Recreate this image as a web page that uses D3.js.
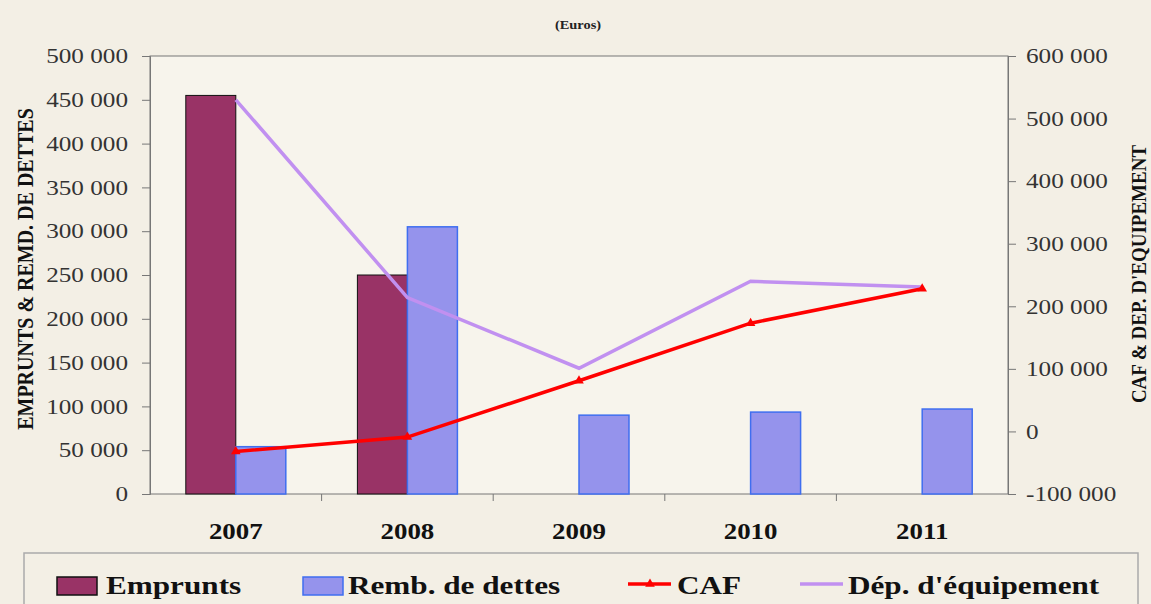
<!DOCTYPE html>
<head>
  <meta charset="utf-8">
  <script src="https://d3js.org/d3.v7.min.js"></script>
  <style>
    body { margin:0; background:#f3efe5; }
    text { font-family: "Liberation Serif", "DejaVu Serif", serif; }
    .axis text { font-size: 21px; fill: #333; font-family: "Liberation Serif", serif; }
    .axis path, .axis line { stroke: #777; }
  </style>
</head>
<body>
  <script>
    var years = ["2007", "2008", "2009", "2010", "2011"];
    var emprunts = [455000, 250000, null, null, null];
    var remb = [54000, 305000, 90000, 93500, 97000];
    var caf = [-32000, -9000, 81000, 173000, 228000];
    var depEquip = [530000, 214000, 101000, 240000, 231000];
    var leftTicks = [0, 50000, 100000, 150000, 200000, 250000, 300000, 350000, 400000, 450000, 500000];
    var rightTicks = [-100000, 0, 100000, 200000, 300000, 400000, 500000, 600000];

    var W = 1151, H = 604;
    var margin = {top: 56, right: 143, bottom: 110, left: 150};
    var width = W - margin.left - margin.right,
        height = H - margin.top - margin.bottom;
    var sx = 1.2; // the picture's lettering is a bit wider than the font

    var root = d3.select("body").append("svg")
      .attr("width", W).attr("height", H);
    var svg = root.append("g")
      .attr("transform", "translate(" + margin.left + "," + margin.top + ")");

    var fmt = function(d) { return d3.format(",")(d).replace(/,/g, " ").replace("\u2212", "-"); };

    var x = d3.scaleBand().domain(years).range([0, width]);
    var y = d3.scaleLinear().domain([0, 500000]).range([height, 0]);
    var y2 = d3.scaleLinear().domain([-100000, 600000]).range([height, 0]);
    var barW = 50;

    svg.append("rect")
      .attr("width", width).attr("height", height)
      .attr("fill", "#f7f4ec").attr("stroke", "#777");

    // bars
    svg.selectAll(".emp").data(years.filter(function(d, i) { return emprunts[i] != null; }))
      .enter().append("rect")
      .attr("x", function(d) { return x(d) + x.bandwidth() / 2 - barW; })
      .attr("y", function(d) { return y(emprunts[years.indexOf(d)]); })
      .attr("width", barW)
      .attr("height", function(d) { return height - y(emprunts[years.indexOf(d)]); })
      .attr("fill", "#993366").attr("stroke", "#111").attr("stroke-width", 1);

    svg.selectAll(".remb").data(years)
      .enter().append("rect")
      .attr("x", function(d) { return x(d) + x.bandwidth() / 2; })
      .attr("y", function(d, i) { return y(remb[i]); })
      .attr("width", barW)
      .attr("height", function(d, i) { return height - y(remb[i]); })
      .attr("fill", "#9593ec").attr("stroke", "#3f6ef0").attr("stroke-width", 1.5);

    // axes
    var gl = svg.append("g").attr("class", "axis")
      .call(d3.axisLeft(y).tickValues(leftTicks).tickFormat(fmt).tickSizeOuter(0).tickSize(8));
    gl.attr("font-family", null).attr("font-size", null);
    gl.selectAll("text").attr("x", -22 / sx).attr("transform", "scale(" + sx + ",1)");

    var gr = svg.append("g").attr("class", "axis")
      .attr("transform", "translate(" + width + ",0)")
      .call(d3.axisRight(y2).tickValues(rightTicks).tickFormat(fmt).tickSizeOuter(0).tickSize(8));
    gr.attr("font-family", null).attr("font-size", null);
    gr.selectAll("text").attr("x", 18 / sx).attr("transform", "scale(" + sx + ",1)");

    var xAxis = svg.append("g")
      .attr("transform", "translate(0," + height + ")");
    xAxis.selectAll(".sep").data(years.slice(1)).enter().append("line")
      .attr("x1", function(d) { return x(d); }).attr("x2", function(d) { return x(d); })
      .attr("y1", 0).attr("y2", 7).attr("stroke", "#777");
    xAxis.selectAll(".lbl").data(years).enter().append("text")
      .attr("transform", function(d) {
        return "translate(" + (x(d) + x.bandwidth() / 2) + ",45) scale(1.17,1)";
      })
      .attr("text-anchor", "middle")
      .attr("font-size", "23px").attr("font-weight", "bold").attr("fill", "#111")
      .text(function(d) { return d; });

    // lines
    var lineFn = d3.line()
      .x(function(d, i) { return x(years[i]) + x.bandwidth() / 2; })
      .y(function(d) { return y2(d); });

    svg.append("path").datum(depEquip)
      .attr("d", lineFn).attr("fill", "none")
      .attr("stroke", "#c190f0").attr("stroke-width", 3.5);

    svg.append("path").datum(caf)
      .attr("d", lineFn).attr("fill", "none")
      .attr("stroke", "#ff0000").attr("stroke-width", 3.5);

    svg.selectAll(".cafpt").data(caf).enter().append("path")
      .attr("d", d3.symbol().type(d3.symbolTriangle).size(40))
      .attr("transform", function(d, i) {
        return "translate(" + (x(years[i]) + x.bandwidth() / 2) + "," + y2(d) + ")";
      })
      .attr("fill", "#ff0000");

    // titles
    root.append("text")
      .attr("transform", "translate(578,29) scale(" + sx + ",1)")
      .attr("text-anchor", "middle")
      .attr("font-size", "12px").attr("font-weight", "bold").attr("fill", "#222")
      .text("(Euros)");

    root.append("text")
      .attr("transform", "translate(33,269) rotate(-90) scale(1,1.15)")
      .attr("text-anchor", "middle")
      .attr("font-size", "20px").attr("font-weight", "bold").attr("fill", "#111")
      .text("EMPRUNTS & REMD. DE DETTES");

    root.append("text")
      .attr("transform", "translate(1146,274) rotate(-90) scale(1,1.15)")
      .attr("text-anchor", "middle")
      .attr("font-size", "19px").attr("font-weight", "bold").attr("fill", "#111")
      .text("CAF & DEP. D'EQUIPEMENT");

    // legend
    var legend = root.append("g");
    legend.append("rect")
      .attr("x", 24).attr("y", 553).attr("width", 1114).attr("height", 60)
      .attr("fill", "none").attr("stroke", "#aaa").attr("stroke-width", 1.5);

    var legItems = [
      {name: "Emprunts", type: "bar", fill: "#993366", stroke: "#111", x: 57, tx: 106},
      {name: "Remb. de dettes", type: "bar", fill: "#9593ec", stroke: "#3f6ef0", x: 303, tx: 348},
      {name: "CAF", type: "line", color: "#ff0000", x: 628, tx: 677},
      {name: "Dép. d'équipement", type: "line", color: "#c190f0", x: 800, tx: 848}
    ];
    legItems.forEach(function(it) {
      if (it.type === "bar") {
        legend.append("rect")
          .attr("x", it.x).attr("y", 577).attr("width", 40).attr("height", 18)
          .attr("fill", it.fill).attr("stroke", it.stroke).attr("stroke-width", 1.5);
      } else {
        legend.append("line")
          .attr("x1", it.x).attr("x2", it.x + 43).attr("y1", 584).attr("y2", 584)
          .attr("stroke", it.color).attr("stroke-width", 3.5);
        if (it.name === "CAF") {
          legend.append("path")
            .attr("d", d3.symbol().type(d3.symbolTriangle).size(40))
            .attr("transform", "translate(" + (it.x + 22) + ",584)")
            .attr("fill", it.color);
        }
      }
      legend.append("text")
        .attr("transform", "translate(" + it.tx + ",594) scale(" + sx + ",1)")
        .attr("font-size", "26px").attr("font-weight", "bold").attr("fill", "#111")
        .text(it.name);
    });
  </script>
</body>
